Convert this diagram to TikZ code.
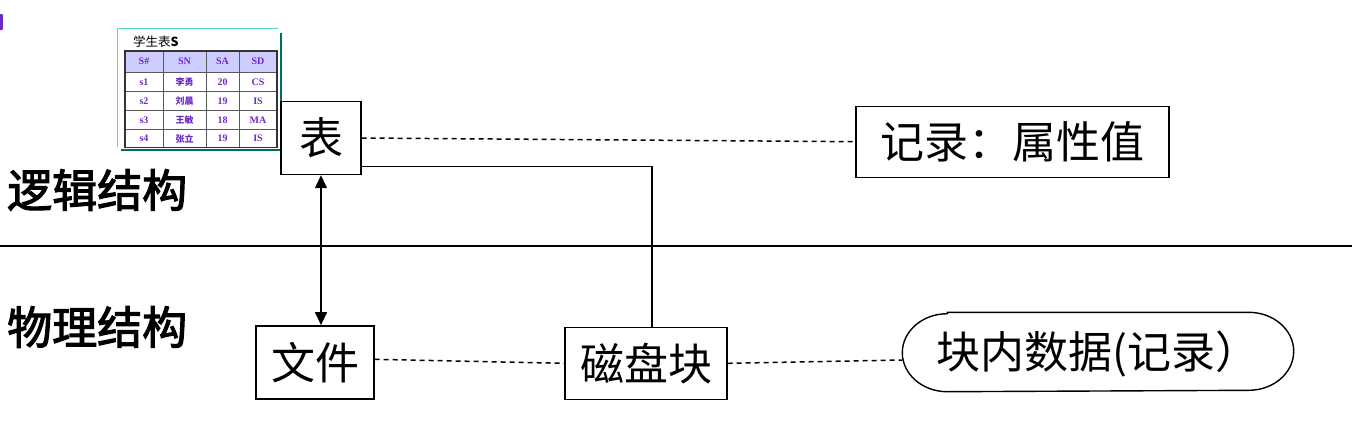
\documentclass[tikz,border=0pt]{standalone}
\usepackage{fontspec}
\setmainfont{Liberation Serif}
\newfontfamily\cjk{Noto Sans CJK SC}
\newfontfamily\cjkmid[FakeBold=2.5]{Noto Sans CJK SC}
\usetikzlibrary{arrows.meta}
\definecolor{tpurple}{RGB}{110,40,200}
\definecolor{thead}{RGB}{204,204,255}
\definecolor{tteal}{RGB}{90,216,190}
\definecolor{tdark}{RGB}{0,110,90}
\tikzset{
  boxnode/.style={draw,line width=1.4pt,inner sep=0pt,font=\cjk\fontsize{44}{46}\selectfont},
  sidelabel/.style={inner sep=0pt,anchor=west,font=\cjkmid\fontsize{45}{48}\selectfont},
  conn/.style={line width=1.3pt},
  dconn/.style={line width=1.5pt,dash pattern=on 5pt off 4pt},
  cell/.style={inner sep=0pt,text=tpurple,font=\bfseries\fontsize{10}{11}\selectfont},
  namecell/.style={inner sep=0pt,text=tpurple,font=\cjk\bfseries\fontsize{9}{10}\selectfont},
}
\begin{document}
\begin{tikzpicture}[x=1pt,y=-1pt]
\useasboundingbox (0,0) rectangle (1356,424);
% purple mark
\fill[tpurple,rounded corners=1pt] (-2,14) rectangle (2.8,30);
% table picture
\draw[tdark,line width=1.6pt] (121,150) -- (281,150) -- (281,33);
\draw[tteal,line width=1.6pt] (117.5,146.5) -- (117.5,28.5) -- (277.5,28.5);
\node[inner sep=0pt,anchor=west,font=\cjk\fontsize{12.5}{13}\selectfont] (ttitle) at (133,41.5) {学生表\textbf{S}};
\fill[thead] (125,51) rectangle (277,72);
\draw[gray!70!black,line width=0.8pt]
  (125,72) -- (277,72) (125,91.7) -- (277,91.7) (125,110.7) -- (277,110.7) (125,129.7) -- (277,129.7)
  (163,51) -- (163,147.7) (206,51) -- (206,147.7) (239,51) -- (239,147.7);
\draw[black!80,line width=1.5pt] (125,51) rectangle (277,147.7);
\foreach \y/\a/\c/\d in {61.5/S\#/SA/SD, 81.8/s1/20/CS, 101.2/s2/19/IS, 120.2/s3/18/MA, 138.7/s4/19/IS}{
  \node[cell] at (144,\y) {\a};
  \node[cell] at (222.5,\y) {\c};
  \node[cell] at (258,\y) {\d};
}
\node[cell] at (184.5,61.5) {SN};
\node[namecell] at (184.5,81.8) {李勇};
\node[namecell] at (184.5,101.2) {刘晨};
\node[namecell] at (184.5,120.2) {王敏};
\node[namecell] at (184.5,138.7) {张立};
% side labels
\node[sidelabel] (lj) at (7,190) {逻辑结构};
\node[sidelabel] (wl) at (7,327) {物理结构};
% rule
\coordinate (ruleA) at (0,246);
\coordinate (ruleB) at (1352,246);
\draw[line width=1.2pt] (ruleA) -- (ruleB);
% boxes
\node[boxnode,minimum width=80pt,minimum height=73pt] (biao) at (321,138) {表};
\node[boxnode,minimum width=313pt,minimum height=71pt] (jl) at (1012.5,141.7) {记录：属性值};
\node[boxnode,minimum width=118pt,minimum height=73pt] (wj) at (315,362.3) {文件};
\node[boxnode,minimum width=162pt,minimum height=72pt] (cp) at (646,363.3) {磁盘块};
\node[boxnode,draw=none,minimum width=390pt,minimum height=78pt] (ell) at (1098,354) {块内数据(记录）};
\draw[line width=1.4pt] ([xshift=45pt,yshift=2pt]ell.north west) -- ([xshift=-45pt,yshift=2pt]ell.north east)
  arc[start angle=90,end angle=-90,x radius=45pt,y radius=39pt]
  -- ([xshift=45pt,yshift=2pt]ell.south west)
  arc[start angle=270,end angle=90,x radius=45pt,y radius=39pt] -- cycle;
% connectors
\draw[dconn] (biao.east) -- (jl.west);
\draw[conn] ([yshift=-28.7pt]biao.east) -| ([xshift=6pt]cp.north);
\draw[conn,{Triangle[length=13pt,width=12pt]}-{Triangle[length=13pt,width=12pt]}] (biao.south) -- (biao.south |- wj.north);
\draw[dconn] ([yshift=3pt]wj.east) -- (cp.west);
\draw[dconn] (cp.east) -- ([yshift=-6pt]ell.west);
\end{tikzpicture}
\end{document}
